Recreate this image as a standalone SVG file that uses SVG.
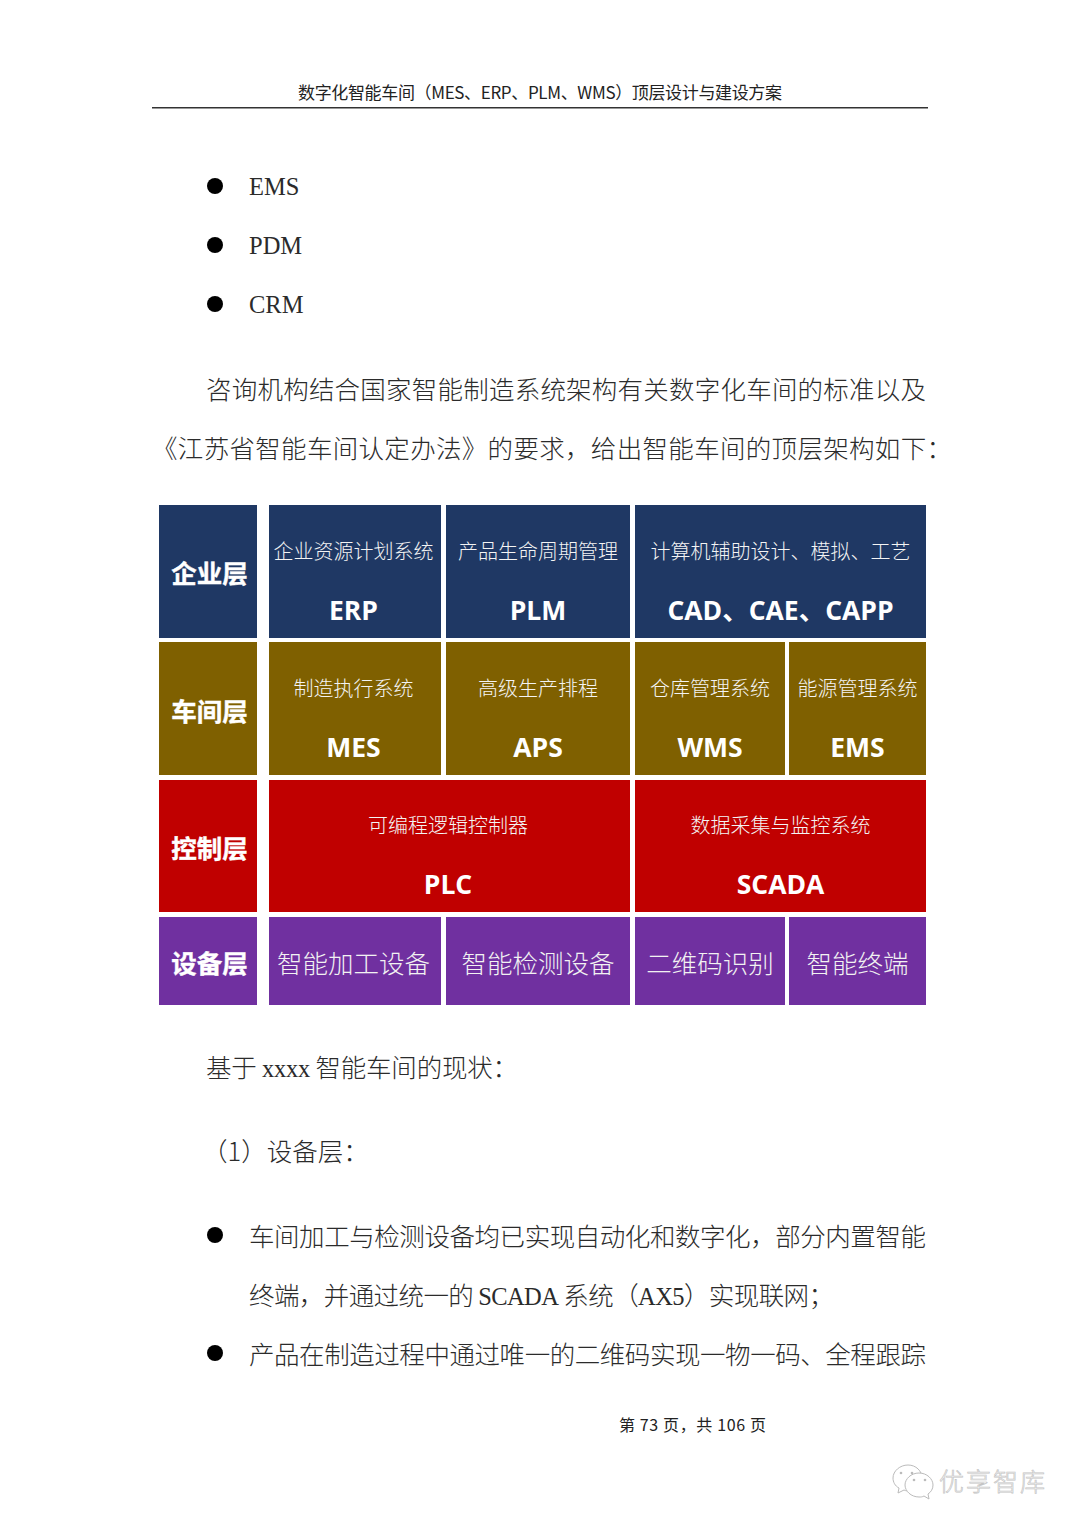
<svg xmlns="http://www.w3.org/2000/svg" width="1080" height="1528" viewBox="0 0 1080 1528">
<style>
text{font-family:"Noto Sans CJK SC","Liberation Sans",sans-serif}
.b{font-size:25.5px;fill:#2b2b2b;font-weight:300}
.l{font-family:"Liberation Serif","Noto Sans CJK SC",serif;font-size:24.500px;fill:#2b2b2b}
.h{font-size:17px;fill:#222}
.f{font-size:16px;fill:#222}
.n{font-size:20px;fill:#f4f4f4;text-anchor:middle;font-weight:300}
.s{font-family:"Open Sans","Noto Sans CJK SC",sans-serif;font-size:26.5px;font-weight:700;fill:#fff;text-anchor:middle}
.t{font-size:25.5px;font-weight:700;fill:#fff;text-anchor:middle;stroke:#fff;stroke-width:.4}
.g{font-size:25.5px;fill:#f2f2f2;text-anchor:middle;font-weight:300}
.blue{fill:#1f3864}.gold{fill:#7f6000}.red{fill:#c00000}.pur{fill:#7030a0}
.w{font-size:25px;fill:#fff;stroke:#c4c4c4;stroke-width:.7;font-weight:300}
.ic{fill:#fff;stroke:#bbb;stroke-width:1}
.e{fill:#bbb}
</style>
<rect width="1080" height="1528" fill="#fff"/>
<g id="header">
<text class="h" x="298" y="99" textLength="484" lengthAdjust="spacing">数字化智能车间（MES、ERP、PLM、WMS）顶层设计与建设方案</text>
<rect x="152" y="107" width="776" height="1.5" fill="#333"/>
</g>
<g id="top-text">
<circle cx="215" cy="186" r="8" fill="#000"/><text class="l" x="249" y="195">EMS</text>
<circle cx="215" cy="245" r="8" fill="#000"/><text class="l" x="249" y="254">PDM</text>
<circle cx="215" cy="304" r="8" fill="#000"/><text class="l" x="249" y="313">CRM</text>
<text class="b" x="206" y="399" textLength="720" lengthAdjust="spacing">咨询机构结合国家智能制造系统架构有关数字化车间的标准以及</text>
<text class="b" x="152" y="458" textLength="800" lengthAdjust="spacing">《江苏省智能车间认定办法》的要求，给出智能车间的顶层架构如下：</text>
</g>
<g id="layer-enterprise">
<rect class="blue" x="159" y="505" width="98" height="133"/><text class="t" x="209.500" y="583">企业层</text>
</g>
<g id="node-erp"><rect class="blue" x="269" y="505" width="172" height="133"/><text class="n" x="353.500" y="559">企业资源计划系统</text><text class="s" x="353.500" y="620">ERP</text></g>
<g id="node-plm"><rect class="blue" x="446" y="505" width="184" height="133"/><text class="n" x="538" y="559">产品生命周期管理</text><text class="s" x="538" y="620">PLM</text></g>
<g id="node-cad"><rect class="blue" x="635" y="505" width="291" height="133"/><text class="n" x="780.500" y="559">计算机辅助设计、模拟、工艺</text><text class="s" x="780.500" y="620">CAD、CAE、CAPP</text></g>
<g id="layer-workshop">
<rect class="gold" x="159" y="642" width="98" height="133"/><text class="t" x="209.500" y="721">车间层</text>
</g>
<g id="node-mes"><rect class="gold" x="269" y="642" width="172" height="133"/><text class="n" x="353.500" y="696">制造执行系统</text><text class="s" x="353.500" y="757">MES</text></g>
<g id="node-aps"><rect class="gold" x="446" y="642" width="184" height="133"/><text class="n" x="538" y="696">高级生产排程</text><text class="s" x="538" y="757">APS</text></g>
<g id="node-wms"><rect class="gold" x="635" y="642" width="150" height="133"/><text class="n" x="710" y="696">仓库管理系统</text><text class="s" x="710" y="757">WMS</text></g>
<g id="node-ems"><rect class="gold" x="789" y="642" width="137" height="133"/><text class="n" x="857.500" y="696">能源管理系统</text><text class="s" x="857.500" y="757">EMS</text></g>
<g id="layer-control">
<rect class="red" x="159" y="780" width="98" height="132"/><text class="t" x="209.500" y="858">控制层</text>
</g>
<g id="node-plc"><rect class="red" x="269" y="780" width="361" height="132"/><text class="n" x="448" y="833">可编程逻辑控制器</text><text class="s" x="448" y="894">PLC</text></g>
<g id="node-scada"><rect class="red" x="635" y="780" width="291" height="132"/><text class="n" x="780.500" y="833">数据采集与监控系统</text><text class="s" x="780.500" y="894">SCADA</text></g>
<g id="layer-device">
<rect class="pur" x="159" y="917" width="98" height="88"/><text class="t" x="209.500" y="973">设备层</text>
</g>
<g id="node-machining"><rect class="pur" x="269" y="917" width="172" height="88"/><text class="g" x="353.500" y="973">智能加工设备</text></g>
<g id="node-inspection"><rect class="pur" x="446" y="917" width="184" height="88"/><text class="g" x="538" y="973">智能检测设备</text></g>
<g id="node-qr"><rect class="pur" x="635" y="917" width="150" height="88"/><text class="g" x="710" y="973">二维码识别</text></g>
<g id="node-terminal"><rect class="pur" x="789" y="917" width="137" height="88"/><text class="g" x="857.500" y="973">智能终端</text></g>
<g id="connectors"></g>
<g id="bottom-text">
<text class="b" x="206" y="1077" textLength="312" lengthAdjust="spacing">基于 <tspan class="l">xxxx</tspan> 智能车间的现状：</text>
<text class="b" x="202" y="1161">（1）设备层：</text>
<circle cx="215" cy="1235" r="8" fill="#000"/>
<text class="b" x="249" y="1246" textLength="677" lengthAdjust="spacing">车间加工与检测设备均已实现自动化和数字化，部分内置智能</text>
<text class="b" x="249" y="1305" textLength="585" lengthAdjust="spacing">终端，并通过统一的 <tspan class="l">SCADA</tspan> 系统（<tspan class="l">AX5</tspan>）实现联网；</text>
<circle cx="215" cy="1353" r="8" fill="#000"/>
<text class="b" x="249" y="1364" textLength="677" lengthAdjust="spacing">产品在制造过程中通过唯一的二维码实现一物一码、全程跟踪</text>
</g>
<g id="footer">
<text class="f" x="619" y="1431" textLength="147" lengthAdjust="spacing">第 73 页，共 106 页</text>
</g>
<g id="watermark">
<path class="ic" d="M908 1465c-8 0-15 6-15 13 0 4 2 8 6 10l-1 5 6-3c2 1 4 1 6 1 5 0 12-5 12-13 0-7-6-13-14-13z"/>
<circle class="e" cx="901" cy="1473" r="1.300"/><circle class="e" cx="912" cy="1473" r="1.300"/>
<path class="ic" d="M919 1473c-8 0-14 6-14 12s6 12 14 12c2 0 3 0 5-1l5 3-1-5c3-2 5-5 5-9 0-6-6-12-14-12z"/>
<circle class="e" cx="914" cy="1480" r="1.300"/><circle class="e" cx="925" cy="1480" r="1.300"/>
<text class="w" x="939" y="1491" textLength="106" lengthAdjust="spacing">优享智库</text>
</g>
</svg>
